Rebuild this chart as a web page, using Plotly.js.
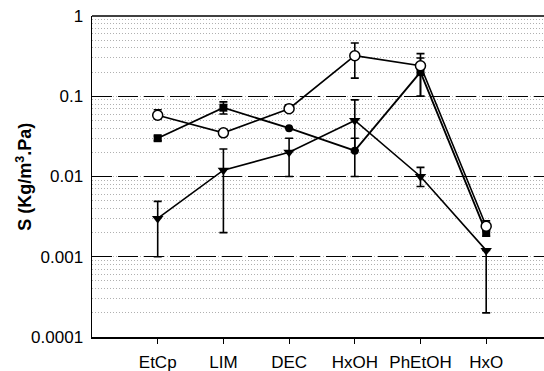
<!DOCTYPE html>
<html><head><meta charset="utf-8">
<script src="https://cdn.plot.ly/plotly-3.0.1.min.js"></script>
<style>html,body{margin:0;padding:0;background:#fff}#chart{width:544px;height:371px}</style>
</head><body><div id="chart"></div>
<script>
const categories = ['EtCp','LIM','DEC','HxOH','PhEtOH','HxO'];

const openVals  = [0.058, 0.035, 0.070, 0.32, 0.24, 0.0024];
const openHigh  = [0.068, 0.035, 0.078, 0.46, 0.34, 0.0028];
const openLow   = [0.052, 0.035, 0.065, 0.168, 0.10, 0.0021];

const filledVals = [0.030, 0.072, 0.040, 0.021, 0.20, 0.0020];
const filledHigh = [0.032, 0.085, 0.040, 0.030, 0.30, 0.0023];
const filledLow  = [0.028, 0.060, 0.040, 0.010, 0.10, 0.0018];
const filledSymbols = ['square','square','circle','circle','square','square'];

const triVals = [0.0030, 0.012, 0.020, 0.050, 0.010, 0.0012];
const triHigh = [0.0049, 0.022, 0.030, 0.090, 0.013, 0.0012];
const triLow  = [0.0010, 0.0020, 0.010, 0.021, 0.0075, 0.0002];

function errs(v, hi, lo){
  return {type:'data', symmetric:false,
    array: v.map((x,i)=>hi[i]-x), arrayminus: v.map((x,i)=>x-lo[i]),
    color:'#000', thickness:1.6, width:4};
}
const traces = [
  {x:categories, y:triVals, mode:'lines+markers', error_y:errs(triVals,triHigh,triLow),
   line:{color:'#000', width:1.6}, marker:{symbol:'triangle-down', size:10, color:'#000'}},
  {x:categories, y:filledVals, mode:'lines+markers', error_y:errs(filledVals,filledHigh,filledLow),
   line:{color:'#000', width:1.8}, marker:{symbol:filledSymbols, size:8, color:'#000'}},
  {x:categories, y:openVals, mode:'lines+markers', error_y:errs(openVals,openHigh,openLow),
   line:{color:'#000', width:1.6}, marker:{symbol:'circle', size:10, color:'#fff', line:{color:'#000', width:1.5}}}
];
const layout = {
  width:544, height:371, showlegend:false,
  margin:{l:92, r:0, t:16, b:34},
  paper_bgcolor:'#fff', plot_bgcolor:'#fff',
  font:{family:'Liberation Sans, Arial, sans-serif', color:'#000', size:17},
  xaxis:{type:'category', range:[-1,5.88], showgrid:false, zeroline:false,
    showline:true, linecolor:'#000', linewidth:1.5, ticks:'outside', ticklen:5, tickcolor:'#000',
    ticklabelstandoff:4, tickfont:{size:17}},
  yaxis:{type:'log', range:[-4,0], dtick:1, tickvals:[0.0001,0.001,0.01,0.1,1],
    ticktext:['0.0001','0.001','0.01','0.1','1'],
    showline:true, linecolor:'#000', linewidth:1.5, ticks:'outside', ticklen:4, tickcolor:'rgba(0,0,0,0)', tickfont:{size:17},
    showgrid:true, gridcolor:'#000', gridwidth:1.2, griddash:'20px,6px',
    minor:{showgrid:true, dtick:'D1', gridcolor:'#b0b0b0', gridwidth:1, griddash:'1px,2px', ticks:''}},
  annotations:[{text:'<b>S (Kg/m<sup>3</sup>.Pa)</b>', xref:'paper', yref:'paper', x:-0.150, y:0.5,
    xanchor:'center', yanchor:'middle', textangle:-90, showarrow:false, font:{size:18}}],
  shapes:[{type:'line', xref:'paper', yref:'paper', x0:0, x1:1, y0:1, y1:1, line:{color:'#000', width:1.5}}]
};
Plotly.newPlot('chart', traces, layout, {staticPlot:true});
</script></body></html>
